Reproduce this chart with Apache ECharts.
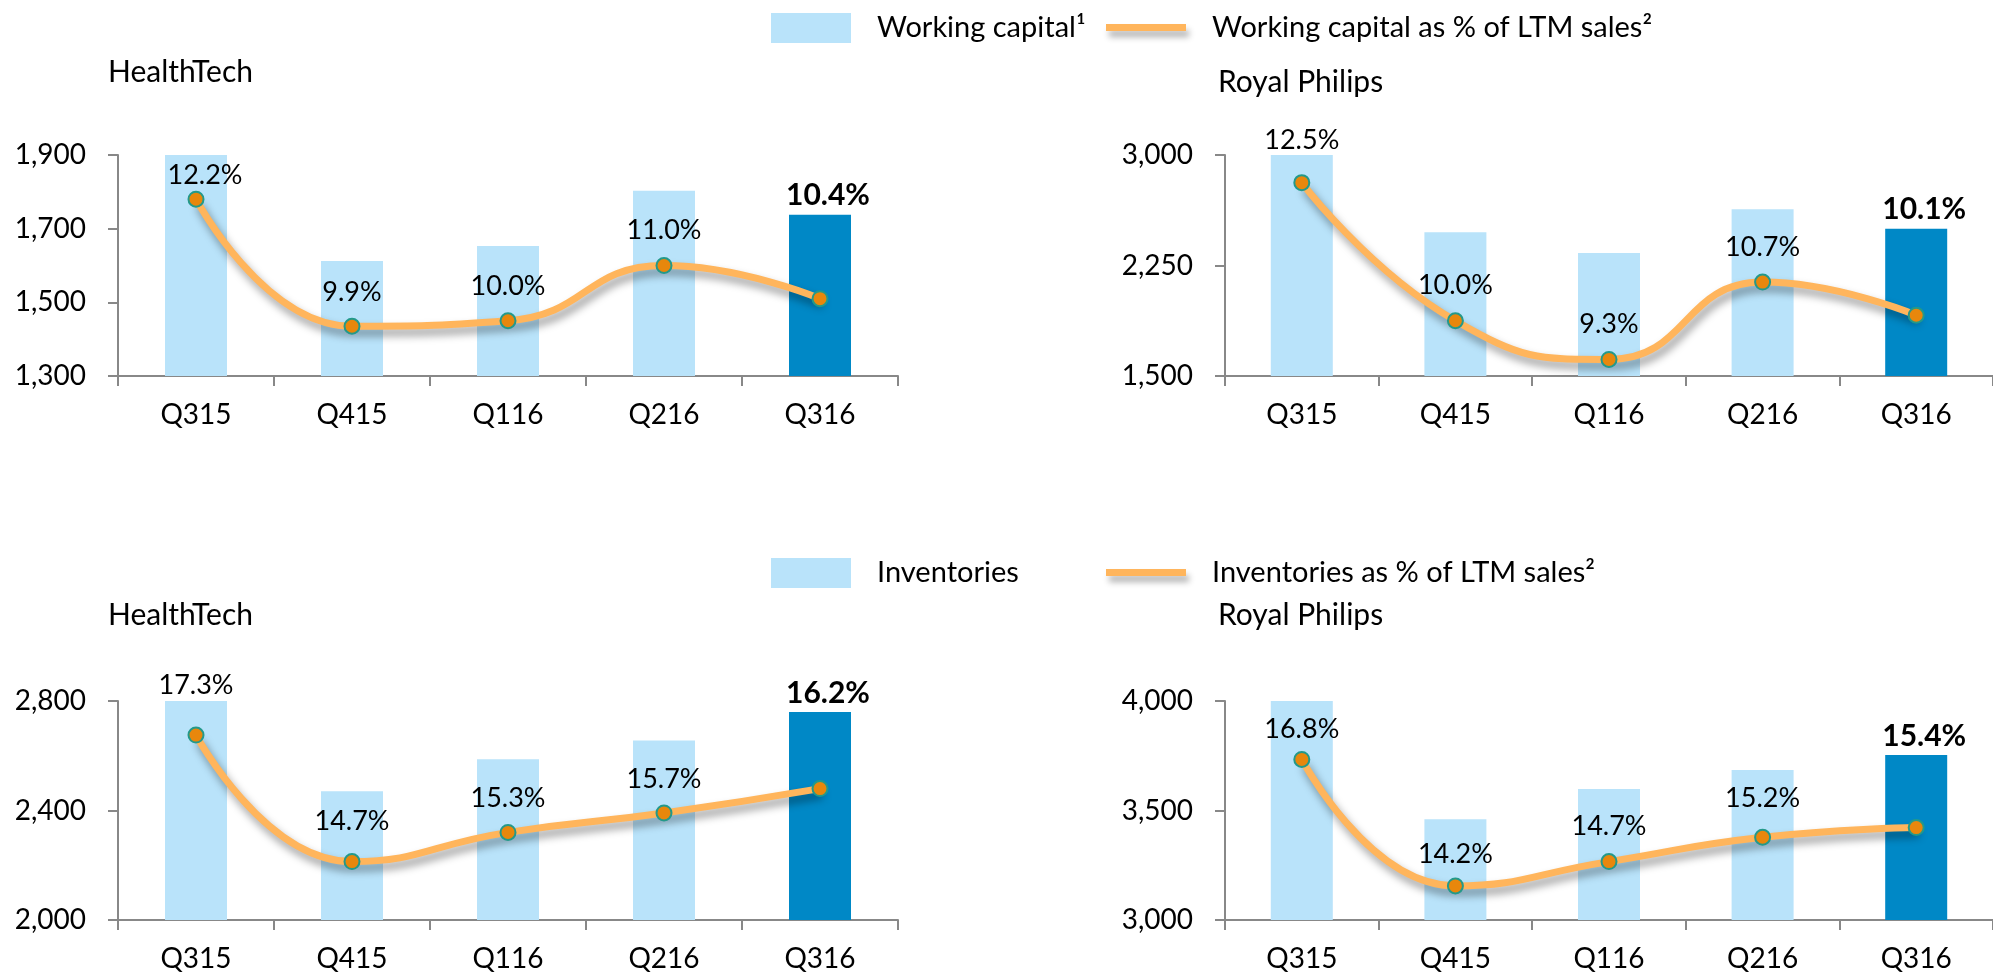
<!DOCTYPE html>
<html>
<head>
<meta charset="utf-8">
<title>Working capital and inventories</title>
<script src="https://cdn.jsdelivr.net/npm/echarts@6/dist/echarts.min.js"></script>
<style>
  html, body { margin: 0; padding: 0; background: #fff; }
  #main { width: 1993px; height: 976px; }
</style>
</head>
<body>
<div id="main"></div>
<script>
// quarters on every x axis
var quarters = ['Q315', 'Q415', 'Q116', 'Q216', 'Q316'];

// working capital (EUR million) and as % of LTM sales
var wcHealthTech = [1900, 1612, 1653, 1803, 1738];
var wcHealthTechPct = [12.2, 9.9, 10.0, 11.0, 10.4];
var wcPhilips = [3000, 2475, 2335, 2631, 2500];
var wcPhilipsPct = [12.5, 10.0, 9.3, 10.7, 10.1];

// inventories (EUR million) and as % of LTM sales
var invHealthTech = [2800, 2470, 2587, 2656, 2760];
var invHealthTechPct = [17.3, 14.7, 15.3, 15.7, 16.2];
var invPhilips = [4000, 3460, 3598, 3685, 3753];
var invPhilipsPct = [16.8, 14.2, 14.7, 15.2, 15.4];

// y axis ticks: [min, max, interval]
var wcHealthTechTicks = [1300, 1900, 200];
var wcPhilipsTicks = [1500, 3000, 750];
var invHealthTechTicks = [2000, 2800, 400];
var invPhilipsTicks = [3000, 4000, 500];

var FONT = 'Lato';
var lightBlue = '#B9E3FA';
var darkBlue = '#0088C6';
var orange = '#FFB55C';
var axisGrey = '#888888';

// label lift above the point, per chart (layout only)
var labelLift = [
    [[9, -24], [0, -34], [0, -34], [0, -35]],
    [[0, -42], [0, -35], [0, -35], [0, -35]],
    [[0, -50], [0, -40], [0, -34], [0, -34]],
    [[0, -30], [0, -32], [0, -35], [0, -39]]
];

var panels = [
    { bars: wcHealthTech, pct: wcHealthTechPct, ticks: wcHealthTechTicks, pctRange: [9, 13],
      barName: 'Working capital¹', lineName: 'Working capital as % of LTM sales²',
      left: 118, top: 155, height: 221 },
    { bars: wcPhilips, pct: wcPhilipsPct, ticks: wcPhilipsTicks, pctRange: [9, 13],
      barName: 'Working capital¹', lineName: 'Working capital as % of LTM sales²',
      left: 1225, top: 155, height: 221 },
    { bars: invHealthTech, pct: invHealthTechPct, ticks: invHealthTechTicks, pctRange: [13.5, 18],
      barName: 'Inventories', lineName: 'Inventories as % of LTM sales²',
      left: 118, top: 701, height: 219 },
    { bars: invPhilips, pct: invPhilipsPct, ticks: invPhilipsTicks, pctRange: [13.5, 18],
      barName: 'Inventories', lineName: 'Inventories as % of LTM sales²',
      left: 1225, top: 701, height: 219 }
];

var grids = [], xAxes = [], yAxes = [], series = [];

panels.forEach(function (p, k) {
    grids.push({ left: p.left, top: p.top, width: 780, height: p.height });
    xAxes.push({
        type: 'category',
        gridIndex: k,
        data: quarters,
        boundaryGap: true,
        axisLine: { lineStyle: { color: axisGrey, width: 2 } },
        axisTick: { show: true, interval: 0, length: 10, lineStyle: { color: axisGrey, width: 2 } },
        axisLabel: { margin: 25, fontFamily: FONT, fontSize: 28, color: '#000' }
    });
    yAxes.push({
        type: 'value',
        gridIndex: k,
        min: p.ticks[0],
        max: p.ticks[1],
        interval: p.ticks[2],
        splitLine: { show: false },
        axisLine: { show: true, lineStyle: { color: axisGrey, width: 2 } },
        axisTick: { show: true, length: 10, lineStyle: { color: axisGrey, width: 2 } },
        axisLabel: {
            margin: 32, fontFamily: FONT, fontSize: 28, color: '#000',
            formatter: function (v) { return v.toLocaleString('en-US'); }
        }
    });
    yAxes.push({
        type: 'value',
        gridIndex: k,
        min: p.pctRange[0],
        max: p.pctRange[1],
        show: false,
        splitLine: { show: false }
    });

    var last = p.bars.length - 1;
    series.push({
        name: p.barName,
        type: 'bar',
        xAxisIndex: k,
        yAxisIndex: 2 * k,
        barWidth: 62,
        itemStyle: { color: lightBlue },
        data: p.bars.map(function (v, i) {
            if (i !== last) return v;
            return {
                value: v,
                itemStyle: { color: darkBlue },
                label: {
                    show: true,
                    position: 'top',
                    distance: 4,
                    offset: [8, 0],
                    fontFamily: FONT,
                    fontWeight: 'bold',
                    fontSize: 30,
                    color: '#000',
                    formatter: p.pct[i].toFixed(1) + '%'
                }
            };
        })
    });
    series.push({
        name: p.lineName,
        type: 'line',
        xAxisIndex: k,
        yAxisIndex: 2 * k + 1,
        smooth: 0.5,
        symbol: 'circle',
        symbolSize: 15,
        showAllSymbol: true,
        z: 5,
        lineStyle: {
            color: orange, width: 7,
            shadowColor: 'rgba(0,0,0,0.4)', shadowBlur: 8, shadowOffsetX: 3, shadowOffsetY: 6
        },
        itemStyle: { color: '#E8870C', borderColor: '#23998A', borderWidth: 2 },
        data: p.pct.map(function (v, i) {
            if (i === last) return { value: v, label: { show: false } };
            return {
                value: v,
                label: {
                    show: true,
                    position: 'inside',
                    offset: labelLift[k][i],
                    fontFamily: FONT,
                    fontSize: 27,
                    color: '#000',
                    formatter: v.toFixed(1) + '%'
                }
            };
        })
    });
});

function legendItem(name, left, top, isLine) {
    return {
        left: left,
        top: top,
        itemWidth: 80,
        itemHeight: 30,
        selectedMode: false,
        data: [isLine ? {
            name: name,
            icon: 'path://M0,0 L80,0 L80,7 L0,7 Z',
            itemStyle: {
                color: orange, borderWidth: 0,
                shadowColor: 'rgba(0,0,0,0.3)', shadowBlur: 6, shadowOffsetX: 3, shadowOffsetY: 6
            }
        } : { name: name, icon: 'rect', itemStyle: { color: lightBlue, borderWidth: 0 } }],
        textStyle: { fontFamily: FONT, fontSize: 29, color: '#000', padding: [0, 0, 0, 21] }
    };
}

function title(text, left, y) {
    return {
        type: 'text',
        left: left,
        top: y - 18,
        style: { text: text, fontFamily: FONT, fontSize: 30, fill: '#000' }
    };
}

var myChart = echarts.init(document.getElementById('main'));
var option = {
    animation: false,
    legend: [
        legendItem('Working capital¹', 766, 8, false),
        legendItem('Working capital as % of LTM sales²', 1101, 8, true),
        legendItem('Inventories', 766, 553, false),
        legendItem('Inventories as % of LTM sales²', 1101, 553, true)
    ],
    graphic: [
        title('HealthTech', 108, 75),
        title('Royal Philips', 1218, 85),
        title('HealthTech', 108, 618),
        title('Royal Philips', 1218, 618)
    ],
    grid: grids,
    xAxis: xAxes,
    yAxis: yAxes,
    series: series
};
myChart.setOption(option);
</script>
</body>
</html>
